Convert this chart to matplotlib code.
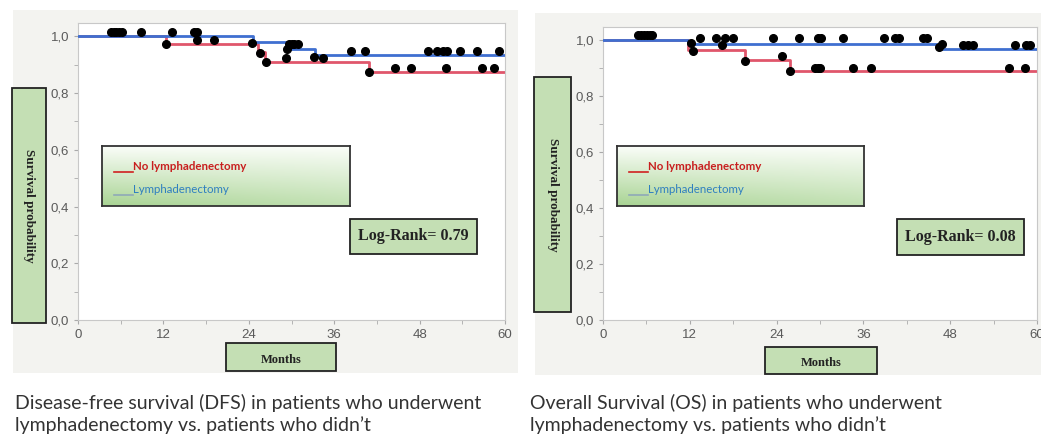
import numpy as np
import matplotlib.pyplot as plt
from matplotlib.patches import Rectangle
from matplotlib.colors import LinearSegmentedColormap

# ---- data ----
months_ticks = [0, 12, 24, 36, 48, 60]
surv_ticks = [0.0, 0.2, 0.4, 0.6, 0.8, 1.0]
surv_tick_labels = ["0,0", "0,2", "0,4", "0,6", "0,8", "1,0"]

# Disease-free survival
dfs_lymph_t = [0, 24.6, 29.4, 33.3, 60]
dfs_lymph_s = [1.0, 0.980, 0.957, 0.933, 0.933]
dfs_nolymph_t = [0, 12.3, 25.3, 26.3, 40.9, 60]
dfs_nolymph_s = [1.0, 0.972, 0.945, 0.910, 0.875, 0.875]
dfs_cens_t = [4.6, 5.0, 5.4, 5.8, 6.2, 8.8, 13.2, 16.3, 16.7, 16.7, 19.1, 12.3,
              24.5, 25.6, 26.4, 29.2, 29.4, 29.6, 30.0, 30.4, 30.9, 33.1, 34.4,
              38.4, 40.3, 40.9, 44.6, 46.8, 49.2, 50.5, 51.3, 51.8, 51.7, 53.7,
              56.0, 56.7, 58.4, 59.2]
dfs_cens_s = [1.015, 1.015, 1.015, 1.015, 1.015, 1.015, 1.015, 1.015, 1.015, 0.986,
              0.986, 0.972, 0.978, 0.940, 0.910, 0.925, 0.957, 0.974, 0.974, 0.974,
              0.974, 0.927, 0.925, 0.948, 0.948, 0.875, 0.890, 0.890, 0.948, 0.948,
              0.948, 0.948, 0.890, 0.948, 0.948, 0.890, 0.890, 0.948]
dfs_logrank = "Log-Rank= 0.79"

# Overall survival
os_lymph_t = [0, 11.8, 46.6, 60]
os_lymph_s = [1.0, 0.986, 0.970, 0.970]
os_nolymph_t = [0, 11.8, 19.7, 25.8, 60]
os_nolymph_s = [1.0, 0.965, 0.930, 0.888, 0.888]
os_cens_t = [4.9, 5.3, 5.7, 6.1, 6.5, 6.8, 12.2, 12.4, 13.4, 15.6, 16.4, 16.9, 18.0,
             19.7, 23.5, 24.7, 25.8, 27.1, 29.3, 29.7, 30.0, 29.7, 30.1, 33.2, 34.5,
             37.1, 38.9, 40.4, 40.9, 44.3, 44.8, 46.4, 46.8, 49.8, 50.5, 51.2, 56.1,
             56.9, 58.4, 58.5, 59.0]
os_cens_s = [1.02, 1.02, 1.02, 1.02, 1.02, 1.02, 0.990, 0.962, 1.006, 1.006, 0.982,
             1.006, 1.006, 0.926, 1.006, 0.944, 0.888, 1.006, 0.902, 0.902, 0.902,
             1.006, 1.006, 1.006, 0.902, 0.902, 1.006, 1.006, 1.006, 1.006, 1.006,
             0.974, 0.986, 0.983, 0.983, 0.983, 0.902, 0.983, 0.902, 0.983, 0.983]
os_logrank = "Log-Rank= 0.08"

caption_dfs = "Disease-free survival (DFS) in patients who underwent\nlymphadenectomy vs. patients who didn\u2019t"
caption_os = "Overall Survival (OS) in patients who underwent\nlymphadenectomy vs. patients who didn\u2019t"

W, H = 1041, 442
GREEN = "#c4dfb4"
BLUE = "#3f6fd0"
RED = "#e0566b"

fig = plt.figure(figsize=(W / 100, H / 100), dpi=100)


def fr(x, y, w, h):
    # pixel box (top-left origin) -> figure fraction rect
    return (x / W, 1 - (y + h) / H, w / W, h / H)


def box(x, y, w, h, face, z=1, lw=1.3, edge="#222222"):
    l, b, ww, hh = fr(x, y, w, h)
    r = Rectangle((l, b), ww, hh, transform=fig.transFigure, facecolor=face,
                  edgecolor=edge, linewidth=lw, zorder=z)
    fig.patches.append(r)


def panel(ax_px, bg_px, ylab_px, leg_px, lr_px, mo_px, lymph, nolymph, cens, logrank, caption, cap_x):
    box(*bg_px, face="#f3f3f0", z=-2, lw=0, edge="none")
    ax = fig.add_axes(fr(*ax_px))
    ax.step(nolymph[0], nolymph[1], where="post", color=RED, lw=2, zorder=2)
    ax.step(lymph[0], lymph[1], where="post", color=BLUE, lw=2, zorder=3)
    ax.plot(cens[0], cens[1], "o", color="black", ms=5.5, zorder=4)
    ax.set_xlim(0, 60)
    ax.set_ylim(0, 1.047)
    ax.set_xticks(months_ticks)
    ax.set_xticks(range(6, 60, 12), minor=True)
    ax.set_yticks(surv_ticks)
    ax.set_yticklabels(surv_tick_labels)
    ax.set_yticks(np.arange(0.1, 1.0, 0.2), minor=True)
    for s in ax.spines.values():
        s.set_color("#c8c8c8")
    ax.tick_params(which="both", colors="#aaaaaa", labelcolor="#5a5a5a", labelsize=9.5,
                   length=3)
    for t in ax.get_xticklabels() + ax.get_yticklabels():
        t.set_fontfamily("Liberation Sans")

    # y label box
    box(*ylab_px, face=GREEN, z=5)
    l, b, w, h = fr(*ylab_px)
    fig.text(l + w / 2, b + h / 2, "Survival probability", rotation=-90, ha="center",
             va="center", family="Liberation Serif", weight="bold", fontsize=9.5,
             color="#222222", zorder=6)

    # legend with gradient
    lax = fig.add_axes(fr(*leg_px), zorder=5)
    grad = np.linspace(0, 1, 50)[:, None] * np.ones((1, 50))
    grad = grad * (0.7 + 0.3 * np.linspace(1, 0, 50)[None, :])
    lax.imshow(grad, cmap=LinearSegmentedColormap.from_list("g", ["#fafdf8", "#a9d494"]),
               aspect="auto", extent=(0, 1, 0, 1), vmin=0, vmax=1)
    lax.set_xticks([])
    lax.set_yticks([])
    for s in lax.spines.values():
        s.set_color("#333333")
        s.set_linewidth(1.3)
    lax.plot([0.05, 0.125], [0.56, 0.56], color="#d02020", lw=1.2)
    lax.text(0.127, 0.57, "No lymphadenectomy", color="#c81e1e", fontsize=8.3,
             family="Lato", weight="bold", va="bottom", ha="left")
    lax.plot([0.05, 0.125], [0.18, 0.18], color="#8fa9b8", lw=1.2)
    lax.text(0.127, 0.19, "Lymphadenectomy", color="#2f7fc0", fontsize=8.3,
             family="Lato", va="bottom", ha="left")
    lax.set_xlim(0, 1)
    lax.set_ylim(0, 1)

    # log-rank box
    box(*lr_px, face=GREEN, z=5)
    l, b, w, h = fr(*lr_px)
    fig.text(l + w / 2, b + h / 2, logrank, ha="center", va="center",
             family="Liberation Serif", weight="bold", fontsize=11.5, color="#222222", zorder=6)

    # months box
    box(*mo_px, face=GREEN, z=5)
    l, b, w, h = fr(*mo_px)
    fig.text(l + w / 2, b + h / 2 - 0.006, "Months", ha="center", va="center",
             family="Liberation Serif", weight="bold", fontsize=9, color="#222222", zorder=6)

    fig.text(cap_x / W, 1 - 394 / H, caption, ha="left", va="top", family="Lato",
             fontsize=14, color="#333333", linespacing=1.3)


panel((78, 23, 427, 297), (13, 10, 505, 363), (12, 88, 34, 235), (102, 146, 248, 60),
      (350, 219, 127, 35), (226, 343, 110, 28),
      (dfs_lymph_t, dfs_lymph_s), (dfs_nolymph_t, dfs_nolymph_s),
      (dfs_cens_t, dfs_cens_s), dfs_logrank, caption_dfs, 15)
panel((603, 27, 434, 293), (535, 13, 506, 362), (534, 77, 37, 235), (617, 146, 247, 60),
      (897, 219, 127, 36), (765, 347, 112, 27),
      (os_lymph_t, os_lymph_s), (os_nolymph_t, os_nolymph_s),
      (os_cens_t, os_cens_s), os_logrank, caption_os, 530)

fig.savefig("out.png", dpi=100)
